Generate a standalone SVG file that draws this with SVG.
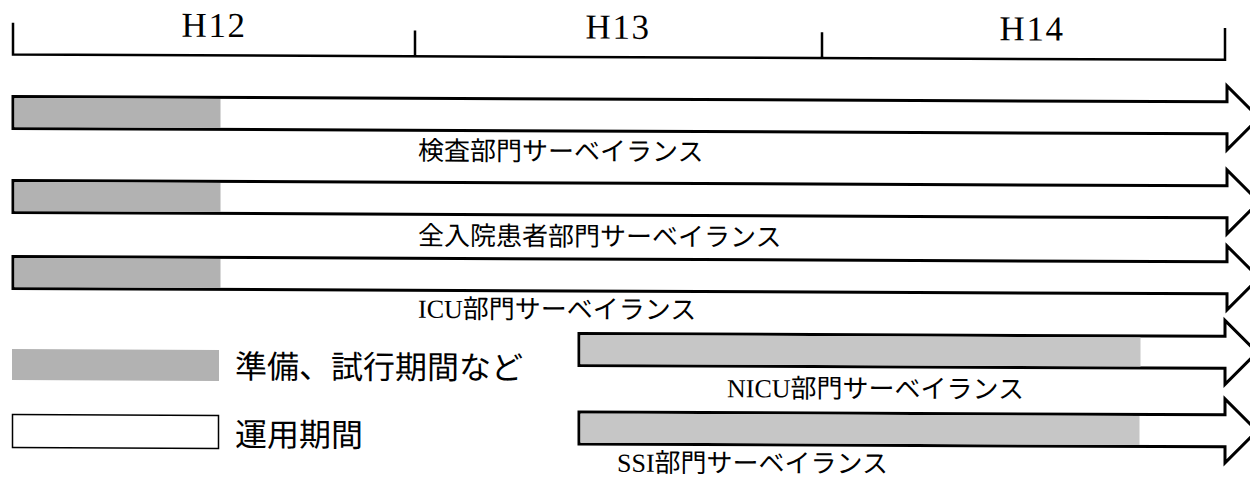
<svg xmlns="http://www.w3.org/2000/svg" width="1250" height="479" viewBox="0 0 1250 479">
<style>
.axis{fill:none;stroke:#000;stroke-width:2.5;stroke-linecap:square}
.yr{font-family:"Liberation Serif","Noto Sans CJK JP",serif;font-size:35px;letter-spacing:1.5px;fill:#000;text-anchor:middle}
.arrow{fill:#fff;stroke:#000;stroke-width:3;stroke-linejoin:miter}
.prep{fill:#b2b2b2}
.prep2{fill:#c6c6c6}
.lbl{font-family:"Liberation Serif","Noto Sans CJK JP",serif;font-size:26px;fill:#000}
.leg{font-family:"Noto Sans CJK JP","Liberation Sans",sans-serif;font-size:32px;fill:#000}
</style>
<rect width="1250" height="479" fill="#fff"/>
<g transform="skewY(0.25)">
<g id="timeline">
<path class="axis" d="M13,54.5 H1225 M13,24 V54.5 M415,30 V54.5 M822,30 V54.5 M1225,24 V54.5"/>
<text class="yr" x="214" y="36">H12</text>
<text class="yr" x="618" y="36">H13</text>
<text class="yr" x="1032" y="36">H14</text>
</g>
<g id="connectors">
<g id="row1">
<polygon class="arrow" points="13,96.5 1227,96.5 1227,80.5 1259,112.5 1227,144.5 1227,128.5 13,128.5"/>
<rect class="prep" x="14.5" y="98" width="206" height="29"/>
<text class="lbl" x="418" y="158">検査部門サーベイランス</text>
</g>
<g id="row2">
<polygon class="arrow" points="13,180.5 1227,180.5 1227,164.5 1259,196.5 1227,228.5 1227,212.5 13,212.5"/>
<rect class="prep" x="14.5" y="182" width="206" height="29"/>
<text class="lbl" x="418" y="243">全入院患者部門サーベイランス</text>
</g>
<g id="row3">
<polygon class="arrow" points="13,256.5 1227,256.5 1227,240.5 1259,272.5 1227,304.5 1227,288.5 13,288.5"/>
<rect class="prep" x="14.5" y="258" width="206" height="29"/>
<text class="lbl" x="418" y="316">ICU部門サーベイランス</text>
</g>
<g id="row4">
<polygon class="arrow" points="579,331 1225,331 1225,315 1257,347 1225,379 1225,363 579,363"/>
<rect class="prep2" x="580.5" y="332.5" width="560" height="29"/>
<text class="lbl" x="727" y="394">NICU部門サーベイランス</text>
</g>
<g id="row5">
<polygon class="arrow" points="579,409.5 1225,409.5 1225,393.5 1257,425.5 1225,457.5 1225,441.5 579,441.5"/>
<rect class="prep2" x="580.5" y="411" width="559" height="29"/>
<text class="lbl" x="617" y="469">SSI部門サーベイランス</text>
</g>
</g>
<g id="legend-prep">
<rect class="prep" x="12" y="349" width="207" height="31"/>
<text class="leg" x="235" y="377">準備、試行期間など</text>
</g>
<g id="legend-op">
<rect x="12.5" y="414.5" width="206" height="33" fill="#fff" stroke="#000" stroke-width="1.5"/>
<text class="leg" x="235" y="445">運用期間</text>
</g>
</g>
</svg>
